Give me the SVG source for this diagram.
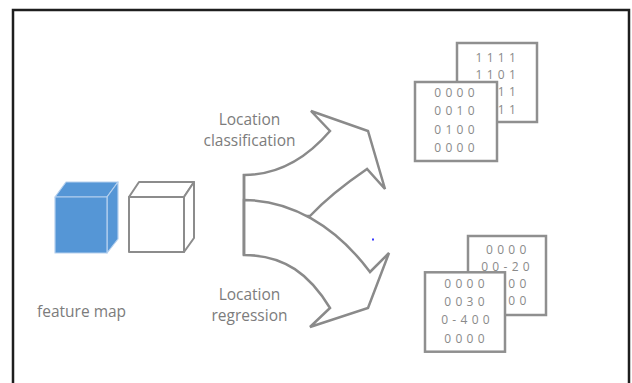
<svg xmlns="http://www.w3.org/2000/svg" width="632" height="383" viewBox="0 0 632 383">
<style>
.frame{fill:none;stroke:#1e1e1e;stroke-width:2.5}
.lbl{font-family:"Open Sans","DejaVu Sans",sans-serif;font-size:15.5px;fill:#7c7c7c}
.dig{font-family:"Open Sans","DejaVu Sans",sans-serif;font-size:12px;fill:#8a8a8a;letter-spacing:4.3px}
.box{fill:#fff;stroke:#8f8f8f;stroke-width:2.5}
.arrow{fill:#fff;stroke:#8a8a8a;stroke-width:2.5;stroke-linejoin:miter}
.cubeB{fill:#5596d6;stroke:#b5d0ee;stroke-width:1.2;stroke-linejoin:round}
.cubeW{fill:#fff;stroke:#8c8c8c;stroke-width:2;stroke-linejoin:round}
</style>
<rect width="632" height="383" fill="#fff"/>
<path class="frame" d="M13,384 V10 H629 V384"/>

<g id="feature-map">
  <g id="cube-blue">
    <polygon class="cubeB" points="55,197 66,182 118,182 107,197"/>
    <polygon class="cubeB" points="107,197 118,182 118,239 107,253"/>
    <rect class="cubeB" x="55" y="197" width="52" height="56"/>
  </g>
  <g id="cube-white">
    <polygon class="cubeW" points="129,197 139,182 194,182 184,197"/>
    <polygon class="cubeW" points="184,197 194,182 194,238 184,252"/>
    <rect class="cubeW" x="129" y="197" width="55" height="55"/>
  </g>
  <text class="lbl" x="37" y="316.5">feature map</text>
</g>

<g id="connectors">
  <path id="arrow-classification" class="arrow" d="M244,255 V175 C275,175 305,160 330,131 L311,111 L368,131 L385,189 L367,169 C345,184 325,200 310,216 L244,216 Z"/>
  <path id="arrow-regression" class="arrow" d="M244,200 C290,200 335,225 370,272 L389,253 L368,308 L310,327 L330,308 C310,275 285,255 244,255 Z"/>
  <path fill="none" stroke="#8a8a8a" stroke-width="2.5" d="M244,174 V256"/>
  <rect x="372" y="238.5" width="2" height="2" fill="#3a3aff"/>
</g>

<g id="label-classification">
  <text class="lbl" x="249.5" y="124.5" text-anchor="middle">Location</text>
  <text class="lbl" x="249.5" y="145.5" text-anchor="middle">classification</text>
</g>
<g id="label-regression">
  <text class="lbl" x="249.5" y="299.5" text-anchor="middle">Location</text>
  <text class="lbl" x="249.5" y="320.5" text-anchor="middle">regression</text>
</g>

<g id="classification-maps">
  <rect class="box" x="457" y="43" width="80" height="79"/>
  <text class="dig" x="475.5" y="61.9">1111</text>
  <text class="dig" x="475.5" y="78.7">1101</text>
  <text class="dig" x="497.8" y="96.2">11</text>
  <text class="dig" x="497.8" y="113.9">11</text>
  <rect class="box" x="415" y="82" width="82" height="79"/>
  <text class="dig" x="434.3" y="96.9">0000</text>
  <text class="dig" x="434.3" y="115.2">0010</text>
  <text class="dig" x="434.3" y="133.5">0100</text>
  <text class="dig" x="434.3" y="151.9">0000</text>
</g>

<g id="regression-maps">
  <rect class="box" x="468" y="236" width="78" height="79"/>
  <text class="dig" x="486" y="253.5">0000</text>
  <text class="dig" x="481.2" y="270.9">00-20</text>
  <text class="dig" x="508.3" y="287.5">00</text>
  <text class="dig" x="508.3" y="305.2">00</text>
  <rect class="box" x="425" y="272.3" width="80" height="79.4"/>
  <text class="dig" x="444.3" y="287.5">0000</text>
  <text class="dig" x="444.3" y="305.9">0030</text>
  <text class="dig" x="441.2" y="324.2">0-400</text>
  <text class="dig" x="444.3" y="342.5">0000</text>
</g>
</svg>
